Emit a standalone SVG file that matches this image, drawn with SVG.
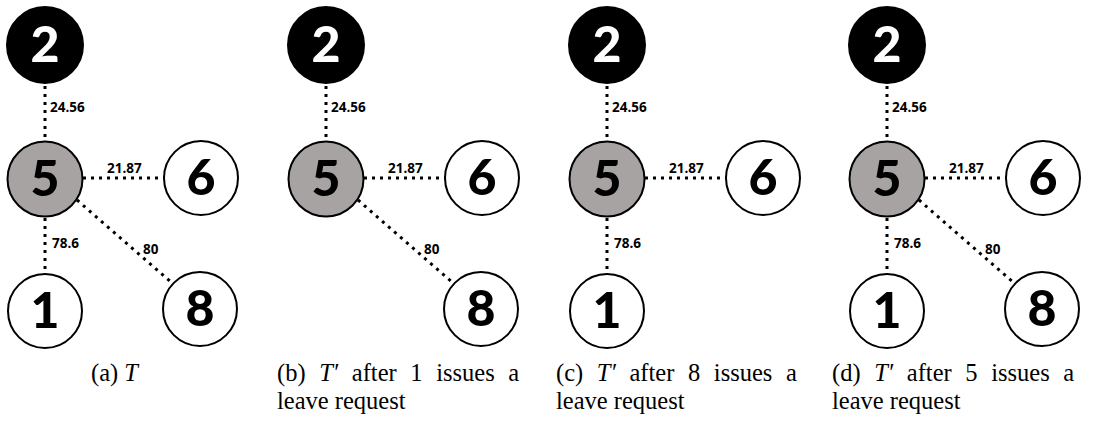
<svg xmlns="http://www.w3.org/2000/svg" width="1115" height="432" viewBox="0 0 1115 432">
  <style>
    .node { stroke: #000; stroke-width: 2; }
    .white { fill: #fff; }
    .gray { fill: #a7a3a3; }
    .black { fill: #000; }
    .num { font-family: Lato, "Open Sans", sans-serif; font-weight: 900; font-size: 50px; text-anchor: middle; }
    .num.light { fill: #fff; }
    .edge { stroke: #000; stroke-width: 3; stroke-dasharray: 3 5; fill: none; }
    .w { font-family: "Open Sans", "Liberation Sans", sans-serif; font-weight: 700; font-size: 13.5px; fill: #000; }
    .cap { font-family: "Liberation Serif", "DejaVu Serif", serif; font-size: 24.5px; fill: #000; }
    .cap.l1 { word-spacing: 7.5px; }
    .cap tspan.m { font-style: italic; }
  </style>
  <defs>
    <!-- one tree layout, reused per panel -->
    <g id="n2"><circle class="node black" cx="45" cy="45" r="38"/><text class="num light" x="45" y="62">2</text></g>
    <g id="n5"><circle class="node gray" cx="45" cy="179" r="37.5"/><text class="num" x="45" y="196">5</text></g>
    <g id="n6"><circle class="node white" cx="201" cy="178" r="37"/><text class="num" x="201" y="195">6</text></g>
    <g id="n1"><circle class="node white" cx="45" cy="311" r="37"/><text class="num" x="45" y="328">1</text></g>
    <g id="n8"><circle class="node white" cx="200" cy="309" r="37"/><text class="num" x="200" y="326">8</text></g>
    <g id="e25"><line class="edge" x1="45" y1="86" x2="45" y2="141"/><text class="w" x="50" y="112">24.56</text></g>
    <g id="e56"><line class="edge" x1="83" y1="178" x2="164" y2="178"/><text class="w" x="107" y="173">21.87</text></g>
    <g id="e51"><line class="edge" x1="45" y1="218" x2="45" y2="274"/><text class="w" x="52" y="248">78.6</text></g>
    <g id="e58"><line class="edge" x1="77" y1="200" x2="172" y2="283"/><text class="w" x="143" y="254">80</text></g>
  </defs>

  <!-- panel (a) -->
  <g id="connectors-a">
    <use href="#e25"/><use href="#e56"/><use href="#e51"/><use href="#e58"/>
  </g>
  <g id="a-node-2"><use href="#n2"/></g>
  <g id="a-node-5"><use href="#n5"/></g>
  <g id="a-node-6"><use href="#n6"/></g>
  <g id="a-node-1"><use href="#n1"/></g>
  <g id="a-node-8"><use href="#n8"/></g>

  <!-- panel (b): node 1 removed -->
  <g transform="translate(281,0)">
    <g id="connectors-b">
      <use href="#e25"/><use href="#e56"/><use href="#e58"/>
    </g>
    <g id="b-node-2"><use href="#n2"/></g>
    <g id="b-node-5"><use href="#n5"/></g>
    <g id="b-node-6"><use href="#n6"/></g>
    <g id="b-node-8"><use href="#n8"/></g>
  </g>

  <!-- panel (c): node 8 removed -->
  <g transform="translate(562,0)">
    <g id="connectors-c">
      <use href="#e25"/><use href="#e56"/><use href="#e51"/>
    </g>
    <g id="c-node-2"><use href="#n2"/></g>
    <g id="c-node-5"><use href="#n5"/></g>
    <g id="c-node-6"><use href="#n6"/></g>
    <g id="c-node-1"><use href="#n1"/></g>
  </g>

  <!-- panel (d) -->
  <g transform="translate(842,0)">
    <g id="connectors-d">
      <use href="#e25"/><use href="#e56"/><use href="#e51"/><use href="#e58"/>
    </g>
    <g id="d-node-2"><use href="#n2"/></g>
    <g id="d-node-5"><use href="#n5"/></g>
    <g id="d-node-6"><use href="#n6"/></g>
    <g id="d-node-1"><use href="#n1"/></g>
    <g id="d-node-8"><use href="#n8"/></g>
  </g>

  <!-- captions -->
  <g id="captions">
    <text class="cap" x="91" y="381">(a) <tspan class="m">T</tspan></text>
    <text class="cap l1" x="277" y="381">(b) <tspan class="m">T′</tspan> after 1 issues a</text>
    <text class="cap" x="277" y="409">leave request</text>
    <text class="cap l1" x="556" y="381">(c) <tspan class="m">T′</tspan> after 8 issues a</text>
    <text class="cap" x="556" y="409">leave request</text>
    <text class="cap l1" x="832" y="381">(d) <tspan class="m">T′</tspan> after 5 issues a</text>
    <text class="cap" x="832" y="409">leave request</text>
  </g>
</svg>
